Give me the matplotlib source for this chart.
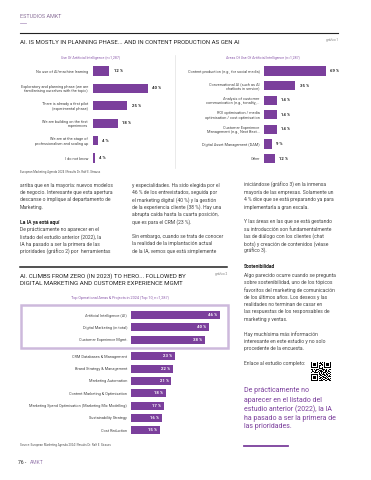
import numpy as np
import matplotlib
matplotlib.use("Agg")
import matplotlib.pyplot as plt
from matplotlib.lines import Line2D
from matplotlib.patches import Rectangle

plt.rcParams["font.family"] = ["Roboto", "DejaVu Sans"]

W, H = 371, 480
PURPLE = "#7b3f9c"
SUB_PURPLE = "#8b5aab"
BOX_PURPLE = "#cdb9dc"
TXT = "#444444"
DARK = "#222222"

# chart 1: stage of AI use
use_labels = [
    "No use of AI/machine learning",
    "Exploratory and planning phase (we are\nfamiliarising ourselves with the topic)",
    "There is already a first pilot\n(experimental phase)",
    "We are building on the first\nexperiences",
    "We are at the stage of\nprofessionalism and scaling up",
    "I do not know",
]
use_values = [12, 40, 25, 18, 4, 1.5]
use_text = ["12 %", "40 %", "25 %", "18 %", "4 %", "4 %"]

# chart 1b: areas of use
area_labels = [
    "Content production (e.g., for social media)",
    "Conversational AI (such as AI\nchatbots in service)",
    "Analysis of customer\ncommunication (e.g., tonality,...",
    "ROI optimisation / media\noptimisation / cost optimisation",
    "Customer Experience\nManagement (e.g., Next Best...",
    "Digital Asset Management (DAM)",
    "Other",
]
area_values = [69, 35, 14, 14, 14, 9, 12]

# chart 2: top operational areas
top_labels = [
    "Artificial Intelligence (AI)",
    "Digital Marketing (in total)",
    "Customer Experience Mgmt.",
    "CRM Databases & Management",
    "Brand Strategy & Management",
    "Marketing Automation",
    "Content Marketing & Optimisation",
    "Marketing Spend Optimisation (Marketing Mix Modelling)",
    "Sustainability Strategy",
    "Cost Reduction",
]
top_values = [46, 40, 38, 23, 22, 21, 18, 17, 16, 15]

col1 = [
    "arriba que en la mayoría: nuevos modelos",
    "de negocio. Interesante que esta apertura",
    "descanse o implique al departamento de",
    "Marketing.",
]
col1b = [
    "De prácticamente no aparecer en el",
    "listado del estudio anterior (2022), la",
    "IA ha pasado a ser la primera de las",
    "prioridades (gráfico 2) por  herramientas",
]
col2 = [
    "y especialidades. Ha sido elegida por el",
    "46 % de los entrevistados, seguida por",
    "el marketing digital (40 %) y la gestión",
    "de la experiencia cliente (38 %). Hay una",
    "abrupta caída hasta la cuarta posición,",
    "que es para el CRM (23 %).",
    "",
    "Sin embargo, cuando se trata de conocer",
    "la realidad de la implantación actual",
    "de la IA, vemos que está simplemente",
]
col3 = [
    "iniciándose (gráfico 3) en la inmensa",
    "mayoría de las empresas. Solamente un",
    "4 % dice que se está preparando ya para",
    "implementarla a gran escala.",
    "",
    "Y las áreas en las que se está gestando",
    "su introducción son fundamentalmente",
    "las de diálogo con los clientes (chat",
    "bots) y creación de contenidos (véase",
    "gráfico 3).",
]
col3b = [
    "Algo parecido ocurre cuando se pregunta",
    "sobre sostenibilidad, uno de los tópicos",
    "favoritos del marketing de comunicación",
    "de los últimos años. Los deseos y las",
    "realidades no terminan de casar en",
    "las respuestas de los responsables de",
    "marketing y ventas.",
    "",
    "Hay muchísima más información",
    "interesante en este estudio y no solo",
    "procedente de la encuesta.",
    "",
    "Enlace al estudio completo:",
]
quote = [
    "De prácticamente no",
    "aparecer en el listado del",
    "estudio anterior (2022), la IA",
    "ha pasado a ser la primera de",
    "las prioridades.",
]

# decorative QR code pattern
finder = ["1111111", "1000001", "1011101", "1011101", "1011101", "1000001", "1111111"]
qr_top = ["10110", "01101", "11010", "00111", "11001", "10100", "10101"]
qr_mid = [
    "110101110010111010011",
    "010011001101010110100",
    "101100111010011001011",
    "011010010111100110110",
    "100111101001011101001",
]
qr_bottom = [
    "1100111011001", "0111001101010", "1010110010111", "0101011101000",
    "1110100110101", "0011011001110", "1101100110011",
]


def fx(x):
    return x / W


def fy(y):
    return 1 - y / H


def axes_px(fig, left, top, right, bottom):
    return fig.add_axes([left / W, 1 - bottom / H, (right - left) / W, (bottom - top) / H])


def put(fig, x, y, s, **kw):
    kw.setdefault("va", "center")
    fig.text(fx(x), fy(y), s, **kw)


def hline(fig, x0, x1, y, **kw):
    fig.add_artist(Line2D([fx(x0), fx(x1)], [fy(y), fy(y)], **kw))


def lines(fig, x, y0, rows, step=7.35, **kw):
    for i, row in enumerate(rows):
        if row:
            put(fig, x, y0 + i * step, row, **kw)


def clean(ax):
    for s in ax.spines.values():
        s.set_visible(False)
    ax.set_xticks([])
    ax.tick_params(axis="y", length=0)


def side_bars(fig, box, labels, values, texts, scale, height, lsize):
    left, top, right, bottom = box
    ax = axes_px(fig, left, top, right, bottom)
    n = len(values)
    ax.barh(range(n), values, height=height, color=PURPLE)
    ax.set_ylim(n - 0.5, -0.5)
    ax.set_xlim(0, (right - left) / scale)
    ax.set_yticks(range(n))
    ax.set_yticklabels(labels, fontsize=lsize, color=TXT, linespacing=1.15)
    clean(ax)
    ax.tick_params(axis="y", pad=3.3)
    for i, (v, t) in enumerate(zip(values, texts)):
        ax.annotate(t, (v, i), xytext=(3, 0), textcoords="offset points",
                    va="center", ha="left", fontsize=3.1, fontweight="bold", color=DARK)
    return ax


def main():
    fig = plt.figure(figsize=(W / 100, H / 100), dpi=100)
    fig.patch.set_facecolor("white")

    # header
    put(fig, 20, 16, "ESTUDIOS AMKT", fontsize=3.9, color="#8a6f99")
    hline(fig, 20, 26, 22.5, color="#b9a3c9", lw=0.6)
    hline(fig, 20, 338, 33, color=DARK, lw=0.8)
    put(fig, 20, 42.5, "AI. IS MOSTLY IN PLANNING PHASE... AND IN CONTENT PRODUCTION AS GEN AI",
        fontsize=4.3, color=DARK)
    put(fig, 338, 40, "gráfico 1", fontsize=2.2, color="#777777", ha="right")

    # chart 1 (left and right)
    put(fig, 91, 57.5, "Use Of Artificial Intelligence (n=1,287)", fontsize=2.5,
        color=SUB_PURPLE, ha="center")
    side_bars(fig, (92.7, 62.3, 172, 166.7), use_labels, use_values, use_text,
              1.39, 0.52, 2.75)
    put(fig, 263, 57.5, "Areas Of Use Of Artificial Intelligence (n=1,287)", fontsize=2.5,
        color=SUB_PURPLE, ha="center")
    side_bars(fig, (264.3, 63.7, 345, 165.9), area_labels, area_values,
              [f"{v} %" for v in area_values], 0.89, 0.62, 2.75)
    fig.add_artist(Line2D([fx(175), fx(175)], [fy(55), fy(168)], color="#e2e2e2", lw=0.5))
    put(fig, 20, 172.3, "European Marketing Agenda 2024 | Results Dr. Ralf E. Strauss",
        fontsize=2.1, color="#555555")

    # body columns
    body = dict(fontsize=3.6, color=TXT)
    lines(fig, 20, 185, col1, **body)
    put(fig, 20, 222.5, "La IA ya está aquí", fontsize=3.6, color=DARK, fontweight="bold")
    lines(fig, 20, 229.6, col1b, **body)
    lines(fig, 132, 185, col2, **body)
    lines(fig, 244, 185, col3, **body)
    put(fig, 244, 267, "Sostenibilidad", fontsize=3.6, color=DARK, fontweight="bold")
    lines(fig, 244, 275, col3b, **body)
    lines(fig, 244, 391, quote, step=9, fontsize=5.0, color=PURPLE)
    hline(fig, 244, 288, 445.7, color=PURPLE, lw=1.3)

    # QR code
    grid = [f + "0" + t + "0" + f for f, t in zip(finder, qr_top)]
    grid.append("00000000" + "11011" + "00000000")
    grid += qr_mid
    grid.append("00000000" + "1011010010110")
    grid += [f + "0" + b for f, b in zip(finder, qr_bottom)]
    qr = np.array([[c == "1" for c in row] for row in grid], dtype=float)
    axq = axes_px(fig, 310.5, 362, 330, 381.5)
    axq.imshow(qr, cmap="gray_r", interpolation="nearest", aspect="auto")
    axq.axis("off")

    # chart 2
    hline(fig, 20, 227, 267, color=DARK, lw=1.1)
    put(fig, 20, 276, "AI. CLIMBS FROM ZERO (IN 2023) TO HERO... FOLLOWED BY", fontsize=4.4, color=DARK)
    put(fig, 20, 283.5, "DIGITAL MARKETING AND CUSTOMER EXPERIENCE MGMT", fontsize=4.4, color=DARK)
    put(fig, 227, 273.5, "gráfico 2", fontsize=2.2, color="#777777", ha="right")
    put(fig, 120, 298, "Top Operational Areas & Projects in 2024 (Top 10, n=1,287)",
        fontsize=2.7, color=SUB_PURPLE, ha="center")

    unit = 12.3
    ypos = [i + (0.36 if i >= 3 else 0) for i in range(len(top_values))]
    top = 315 - unit / 2
    bottom = top + (ypos[-1] + 1) * unit
    ax2 = axes_px(fig, 130.5, top, 228, bottom)
    ax2.barh(ypos, top_values, height=0.65, color=PURPLE)
    ax2.set_ylim(ypos[-1] + 0.5, -0.5)
    ax2.set_xlim(0, (228 - 130.5) / 1.95)
    ax2.set_yticks(ypos)
    ax2.set_yticklabels(top_labels, fontsize=2.75, color=TXT)
    clean(ax2)
    ax2.tick_params(axis="y", pad=2.5)
    for y, v in zip(ypos, top_values):
        ax2.annotate(f"{v} %", (v, y), xytext=(-2, 0), textcoords="offset points",
                     va="center", ha="right", fontsize=3.1, fontweight="bold", color="white")
    fig.add_artist(Rectangle((fx(21), fy(348)), 207 / W, 43 / H, transform=fig.transFigure,
                             fill=False, edgecolor=BOX_PURPLE, lw=1.8))
    put(fig, 20, 445, "Source: European Marketing Agenda 2024 | Results Dr. Ralf E. Strauss",
        fontsize=2.1, color="#555555")

    # footer
    put(fig, 18, 463, "76 -", fontsize=3.6, color=DARK)
    put(fig, 30, 463, "AMKT", fontsize=3.6, color="#9a7fb0")

    fig.savefig("out.png", dpi=100, facecolor="white")
    plt.close(fig)


if __name__ == "__main__":
    main()
